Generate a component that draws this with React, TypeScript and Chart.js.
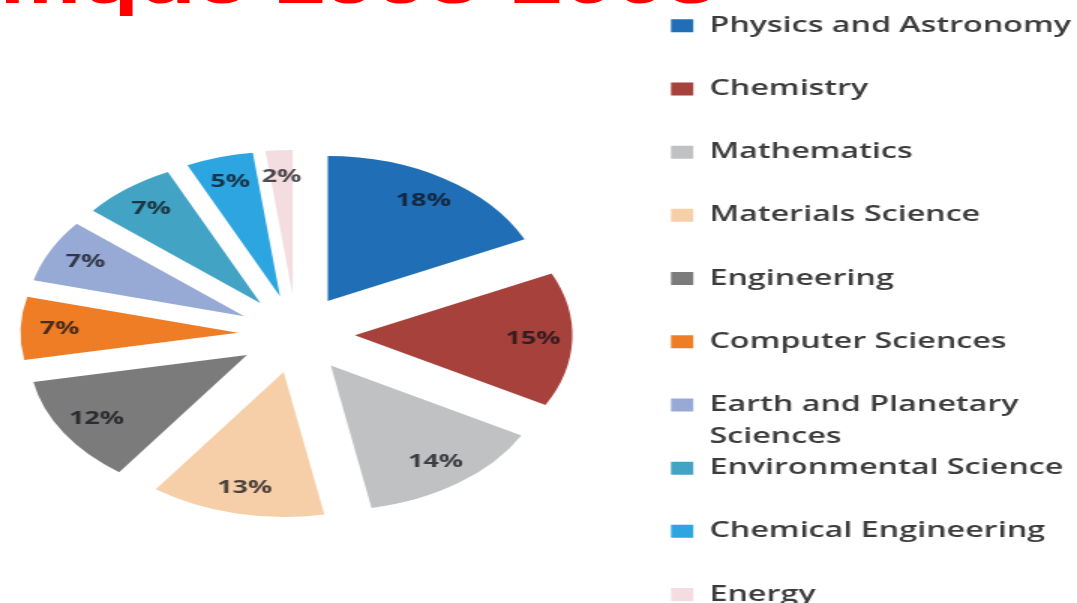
import React, { useEffect, useRef } from 'react';
import { Chart, registerables } from 'chart.js';

Chart.register(...registerables);

// ---- data ----
const categories = [
  'Physics and Astronomy',
  'Chemistry',
  'Mathematics',
  'Materials Science',
  'Engineering',
  'Computer Sciences',
  'Earth and Planetary Sciences',
  'Environmental Science',
  'Chemical Engineering',
  'Energy',
];
const shares = [18, 15, 14, 13, 12, 7, 7, 7, 5, 2];
const colors = [
  '#1f6eb6',
  '#a7413b',
  '#bfc1c2',
  '#f6cfa8',
  '#7b7b7b',
  '#ee7d25',
  '#97a9d5',
  '#42a3c4',
  '#2da5e0',
  '#f3dde1',
];
const legendLines = [
  ['Physics and Astronomy'],
  ['Chemistry'],
  ['Mathematics'],
  ['Materials Science'],
  ['Engineering'],
  ['Computer Sciences'],
  ['Earth and Planetary', 'Sciences'],
  ['Environmental Science'],
  ['Chemical Engineering'],
  ['Energy'],
];
const titleText = 'Production scientifique 1995-2005';

// ---- styling constants ----
const STRETCH = 1.5; // the whole picture is stretched horizontally
const EXPLODE = 39; // distance each slice is pulled out
const PIE_RADIUS = 145;
const LABEL_POS = 0.82;
const CANVAS_W = 776;
const CANVAS_H = 660;
const CANVAS_SHIFT = 52;

const explodePlugin = {
  id: 'explodeSlices',
  afterDatasetsUpdate(chart: any) {
    const meta = chart.getDatasetMeta(0);
    meta.data.forEach((arc: any) => {
      const mid = (arc.startAngle + arc.endAngle) / 2;
      arc.x += Math.cos(mid) * EXPLODE;
      arc.y += Math.sin(mid) * EXPLODE;
    });
  },
};

const sliceLabelPlugin = {
  id: 'sliceLabels',
  afterDatasetsDraw(chart: any) {
    const ctx = chart.ctx;
    const meta = chart.getDatasetMeta(0);
    const values = chart.data.datasets[0].data;
    ctx.save();
    ctx.font = '700 18px "Open Sans"';
    ctx.fillStyle = 'rgba(15,15,22,0.74)';
    ctx.textAlign = 'center';
    ctx.textBaseline = 'middle';
    meta.data.forEach((arc: any, i: number) => {
      const mid = (arc.startAngle + arc.endAngle) / 2;
      const r = arc.outerRadius * LABEL_POS;
      ctx.fillText(`${values[i]}%`, arc.x + Math.cos(mid) * r, arc.y + Math.sin(mid) * r);
    });
    ctx.restore();
  },
};

export default function App() {
  const ref = useRef<HTMLCanvasElement>(null);

  useEffect(() => {
    document.body.style.margin = '0';
    const chart = new Chart(ref.current as HTMLCanvasElement, {
      type: 'pie',
      data: {
        labels: categories,
        datasets: [
          {
            data: shares,
            backgroundColor: colors,
            borderWidth: 0,
            radius: PIE_RADIUS,
          } as any,
        ],
      },
      options: {
        responsive: false,
        animation: false,
        events: [],
        layout: { padding: { left: 0, right: 0, top: 15, bottom: 7 } },
        plugins: {
          tooltip: { enabled: false },
          legend: {
            position: 'right',
            align: 'start',
            labels: {
              boxWidth: 15,
              boxHeight: 13,
              padding: 0,
              color: '#3c3c3c',
              font: { family: '"Open Sans"', size: 21.5, weight: '600', lineHeight: '31.6px' } as any,
              generateLabels(c: any) {
                const meta = c.getDatasetMeta(0);
                return c.data.labels.map((_: string, i: number) => {
                  const style = meta.controller.getStyle(i);
                  const lines = legendLines[i].length > 1 ? legendLines[i] : [legendLines[i][0], ''];
                  return {
                    text: lines,
                    fillStyle: style.backgroundColor,
                    strokeStyle: style.backgroundColor,
                    lineWidth: 0,
                    fontColor: '#3c3c3c',
                    hidden: false,
                    index: i,
                  };
                });
              },
            },
          },
        },
      },
      plugins: [explodePlugin, sliceLabelPlugin],
    });
    return () => chart.destroy();
  }, []);

  const innerW = 1077 / STRETCH;

  return (
    <div
      style={{
        position: 'fixed',
        left: 0,
        top: 0,
        width: 1077,
        height: 603,
        overflow: 'hidden',
        background: '#ffffff',
      }}
    >
      <div
        style={{
          position: 'absolute',
          left: 0,
          top: 0,
          width: innerW,
          height: CANVAS_H,
          transform: `scaleX(${STRETCH})`,
          transformOrigin: '0 0',
        }}
      >
        <div
          style={{
            position: 'absolute',
            right: innerW - 478.7,
            top: -49,
            fontFamily: '"Liberation Sans", Arial, sans-serif',
            fontWeight: 700,
            fontSize: 62,
            lineHeight: '62px',
            color: '#ff0000',
            whiteSpace: 'nowrap',
          }}
        >
          {titleText}
        </div>
        <canvas
          ref={ref}
          width={CANVAS_W}
          height={CANVAS_H}
          style={{ position: 'absolute', left: -CANVAS_SHIFT, top: 0 }}
        />
      </div>
    </div>
  );
}
